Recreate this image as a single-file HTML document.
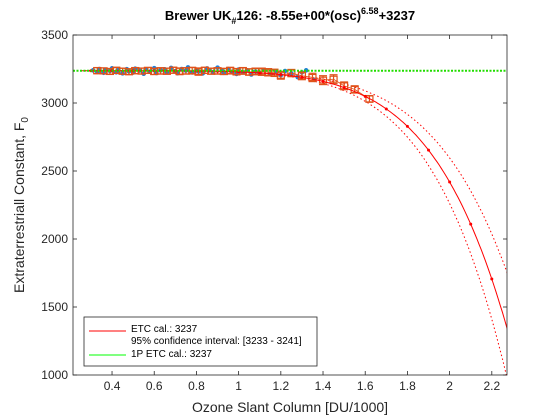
<!DOCTYPE html>
<html><head><meta charset="utf-8"><style>
body{margin:0;background:#fff;}
svg{display:block;font-family:"Liberation Sans",Arial,sans-serif;}
</style></head><body>
<svg id="chart" width="560" height="420" viewBox="0 0 560 420" xmlns="http://www.w3.org/2000/svg">
<rect x="0" y="0" width="560" height="420" fill="#fff"/>
<text x="290" y="20" text-anchor="middle" font-size="13" font-weight="bold">Brewer UK<tspan font-size="9" dy="4">#</tspan><tspan dy="-4">126: -8.55e+00*(osc)</tspan><tspan font-size="9" dy="-6">6.58</tspan><tspan dy="6">+3237</tspan></text>
<rect x="73" y="35" width="434" height="340" fill="#fff"/>
<g id="marks"></g>
<g id="axes"></g>
<text x="290" y="412" text-anchor="middle" font-size="14" fill="#262626">Ozone Slant Column [DU/1000]</text>
<text transform="translate(24,205) rotate(-90)" text-anchor="middle" font-size="14" fill="#262626">Extraterrestriall Constant, F<tspan font-size="10" dy="4">0</tspan></text>
<g>
<rect x="84" y="317" width="233" height="49" fill="#fff" stroke="#262626" stroke-width="0.8"/>
<line x1="89" y1="331" x2="126" y2="331" stroke="#f00" stroke-width="1"/>
<text x="131" y="332" font-size="10" fill="#000">ETC cal.: 3237</text>
<text x="131" y="344" font-size="10" fill="#000">95% confidence interval: [3233 - 3241]</text>
<line x1="89" y1="355" x2="126" y2="355" stroke="#0f0" stroke-width="1"/>
<text x="131" y="357" font-size="10" fill="#000">1P ETC cal.: 3237</text>
</g>
</svg>
<script>
const xTicks=[0.4,0.6,0.8,1,1.2,1.4,1.6,1.8,2,2.2];
const xTickLabels=["0.4","0.6","0.8","1","1.2","1.4","1.6","1.8","2","2.2"];
const yTicks=[1000,1500,2000,2500,3000,3500];
const yTickLabels=["1000","1500","2000","2500","3000","3500"];
const etc=3237;
const fitA=8.55, fitB=6.58;
const ciUpperA=6.7, ciLowerA=10.2;
const fitX=[0.3,0.4,0.5,0.6,0.7,0.8,0.9,1.0,1.1,1.2,1.3,1.4,1.5,1.6,1.7,1.8,1.9,2.0,2.1,2.2,2.3];
const dotX=[0.31,0.33,0.34,0.36,0.37,0.39,0.4,0.42,0.43,0.45,0.47,0.48,0.5,0.51,0.53,0.55,0.56,0.58,0.6,0.61,0.63,0.65,0.66,0.68,0.7,0.71,0.73,0.75,0.76,0.78,0.8,0.81,0.83,0.85,0.86,0.88,0.9,0.92,0.93,0.95,0.97,0.99,1.0,1.02,1.04,1.06,1.08,1.1,1.12,1.15,1.18,1.2,1.22,1.25,1.28,1.3,1.32,1.36];
const dotY=[3240,3228,3250,3222,3244,3236,3255,3226,3242,3218,3249,3233,3224,3252,3238,3215,3246,3230,3256,3221,3240,3248,3226,3258,3234,3219,3250,3238,3262,3225,3245,3232,3218,3254,3240,3228,3260,3236,3222,3250,3230,3214,3246,3226,3240,3210,3232,3220,3244,3212,3228,3205,3235,3218,3190,3225,3240,3170];
const sqX=[0.33,0.36,0.39,0.42,0.45,0.48,0.51,0.54,0.57,0.6,0.63,0.66,0.69,0.72,0.75,0.78,0.81,0.84,0.87,0.9,0.93,0.96,0.99,1.02,1.05,1.08,1.11,1.14,1.17,1.2,1.25,1.3,1.35,1.4,1.45,1.5,1.55,1.62];
const sqY=[3238,3236,3232,3240,3234,3230,3238,3235,3240,3232,3236,3234,3241,3233,3236,3238,3231,3240,3234,3236,3232,3238,3230,3236,3228,3232,3230,3226,3222,3204,3220,3200,3188,3168,3175,3126,3100,3030];
const sqErr=[8,7,6,8,7,6,8,7,6,8,9,8,7,10,9,10,12,8,7,9,8,10,9,10,9,10,12,12,12,14,12,14,16,18,18,14,12,10];

const X0=73,X1=507,Y0=35,Y1=375,xmin=0.215,xmax=2.272,ymin=1000,ymax=3500;
const sx=v=>X0+(v-xmin)/(xmax-xmin)*(X1-X0);
const sy=v=>Y1-(v-ymin)/(ymax-ymin)*(Y1-Y0);
const NS="http://www.w3.org/2000/svg";
function mk(tag,attrs,parent){const e=document.createElementNS(NS,tag);for(const k in attrs)e.setAttribute(k,attrs[k]);parent.appendChild(e);return e;}
const marks=document.getElementById('marks'), axes=document.getElementById('axes');
const defs=mk('defs',{},marks);const cp=mk('clipPath',{id:'clip'},defs);mk('rect',{x:X0,y:Y0,width:X1-X0,height:Y1-Y0},cp);
const g=mk('g',{'clip-path':'url(#clip)'},marks);
function curve(a){const pts=[];for(let v=0.25;v<=2.3;v+=0.01)pts.push(sx(v).toFixed(1)+','+sy(etc-a*Math.pow(v,fitB)).toFixed(1));return pts.join(' ');}
let e;
e=mk('polyline',{points:curve(ciUpperA),fill:'none',stroke:'#f00','stroke-width':1,'stroke-dasharray':'1.5,2.5'},g);


e=mk('polyline',{points:curve(ciLowerA),fill:'none',stroke:'#f00','stroke-width':1,'stroke-dasharray':'1.5,2.5'},g);


dotX.forEach((v,i)=>{const c=mk('circle',{cx:sx(v),cy:sy(dotY[i]),r:2.3,fill:'#1f7fd8'},g);

});
const sqPts=[];
sqX.forEach((v,i)=>{const x=sx(v),y=sy(sqY[i]),ee=sqErr[i]/(ymax-ymin)*(Y1-Y0);sqPts.push(x+','+y);
const gg=mk('g',{stroke:'#e0521a','stroke-width':1.2,fill:'none'},g);


mk('line',{x1:x,y1:y-ee-2,x2:x,y2:y+ee+2},gg);
mk('line',{x1:x-4,y1:y-ee-2,x2:x+4,y2:y-ee-2},gg);
mk('line',{x1:x-4,y1:y+ee+2,x2:x+4,y2:y+ee+2},gg);
mk('rect',{x:x-3.5,y:y-3,width:7,height:6},gg);});
e=mk('polyline',{points:sqPts.join(' '),fill:'none',stroke:'#e0521a','stroke-width':0.8},g);


e=mk('polyline',{points:curve(fitA),fill:'none',stroke:'#f00','stroke-width':1},g);


fitX.forEach(v=>{const c=mk('circle',{cx:sx(v),cy:sy(etc-fitA*Math.pow(v,fitB)),r:1.5,fill:'#f00'},g);

});
e=mk('line',{x1:X0,y1:sy(etc),x2:X1,y2:sy(etc),stroke:'#22dd00','stroke-width':2,'stroke-dasharray':'2,1.5'},g);


e=mk('rect',{x:X0,y:Y0,width:X1-X0,height:Y1-Y0,fill:'none',stroke:'#262626','stroke-width':0.8},axes);


xTicks.forEach((v,i)=>{const x=sx(v);
mk('line',{x1:x,y1:Y1,x2:x,y2:Y1-4,stroke:'#262626','stroke-width':0.8},axes);
mk('line',{x1:x,y1:Y0,x2:x,y2:Y0+4,stroke:'#262626','stroke-width':0.8},axes);
const t=mk('text',{x:x,y:Y1+15,'text-anchor':'middle','font-size':12,fill:'#262626'},axes);t.textContent=xTickLabels[i];

});
yTicks.forEach((v,i)=>{const y=sy(v);
mk('line',{x1:X0,y1:y,x2:X0+4,y2:y,stroke:'#262626','stroke-width':0.8},axes);
mk('line',{x1:X1,y1:y,x2:X1-4,y2:y,stroke:'#262626','stroke-width':0.8},axes);
const t=mk('text',{x:X0-5,y:y+4,'text-anchor':'end','font-size':12,fill:'#262626'},axes);t.textContent=yTickLabels[i];

});
</script>
</body></html>
